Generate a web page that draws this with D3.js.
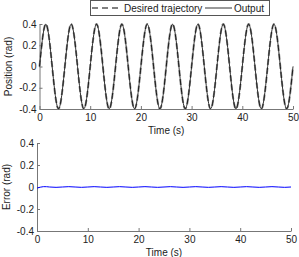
<!DOCTYPE html>
<html>
<head>
<meta charset="utf-8">
<script src="https://cdn.jsdelivr.net/npm/d3@7"></script>
<style>
  body { margin: 0; background: #fff; }
  svg { display: block; font-family: "Liberation Sans", Arial, sans-serif; }
  .tick text { font-size: 10px; fill: #222; }
  .axis path, .axis line { stroke: #777; }
</style>
</head>
<body>
<div class="svg-chart"></div>
<script>
// sampled every quarter period (1.25 s)
const time = [0, 1.25, 2.5, 3.75, 5, 6.25, 7.5, 8.75, 10, 11.25, 12.5, 13.75, 15, 16.25,
  17.5, 18.75, 20, 21.25, 22.5, 23.75, 25, 26.25, 27.5, 28.75, 30, 31.25, 32.5, 33.75,
  35, 36.25, 37.5, 38.75, 40, 41.25, 42.5, 43.75, 45, 46.25, 47.5, 48.75, 50];
const desired = [0, 0.4, 0, -0.4, 0, 0.4, 0, -0.4, 0, 0.4, 0, -0.4, 0, 0.4, 0, -0.4,
  0, 0.4, 0, -0.4, 0, 0.4, 0, -0.4, 0, 0.4, 0, -0.4, 0, 0.4, 0, -0.4, 0, 0.4, 0, -0.4,
  0, 0.4, 0, -0.4, 0];
const output = [0, 0.398, 0, -0.398, 0, 0.398, 0, -0.398, 0, 0.398, 0, -0.398, 0, 0.398,
  0, -0.398, 0, 0.398, 0, -0.398, 0, 0.398, 0, -0.398, 0, 0.398, 0, -0.398, 0, 0.398,
  0, -0.398, 0, 0.398, 0, -0.398, 0, 0.398, 0, -0.398, 0];
const error = [-0.01, 0.003, 0, -0.003, 0, 0.003, 0, -0.003, 0, 0.003, 0, -0.003, 0,
  0.003, 0, -0.003, 0, 0.003, 0, -0.003, 0, 0.003, 0, -0.003, 0, 0.003, 0, -0.003, 0,
  0.003, 0, -0.003, 0, 0.003, 0, -0.003, 0, 0.003, 0, -0.003, 0];
const xTicks = [0, 10, 20, 30, 40, 50];
const yTicks = [-0.4, -0.2, 0, 0.2, 0.4];
const legendLabels = ["Desired trajectory", "Output"];

const width = 299, height = 257;
const svg = d3.select(".svg-chart").append("svg")
  .attr("width", width).attr("height", height);

function panel(box, yLabel) {
  const x = d3.scaleLinear().domain([0, 50]).range([box.left, box.right]);
  const y = d3.scaleLinear().domain([-0.4, 0.4]).range([box.bottom, box.top]);

  svg.append("g").attr("class", "axis")
    .attr("transform", `translate(0,${box.bottom})`)
    .call(d3.axisBottom(x).tickValues(xTicks).tickSizeInner(-3).tickSizeOuter(0)
      .tickPadding(5).tickFormat(d3.format("d")));
  svg.append("g").attr("class", "axis")
    .attr("transform", `translate(${box.left},0)`)
    .call(d3.axisLeft(y).tickValues(yTicks).tickSizeInner(-3).tickSizeOuter(0)
      .tickPadding(3).tickFormat(d => d === 0 ? "0" : d3.format(".1f")(d).replace("−", "-")));

  svg.append("text")
    .attr("transform", `translate(${box.left - 31},${(box.top + box.bottom) / 2}) rotate(-90)`)
    .attr("text-anchor", "middle").attr("dy", "0.35em")
    .style("font-size", "10px").attr("fill", "#222").text(yLabel);
  svg.append("text")
    .attr("x", (box.left + box.right) / 2).attr("y", box.bottom + 21)
    .attr("text-anchor", "middle").attr("dy", "0.35em")
    .style("font-size", "10px").attr("fill", "#222").text("Time (s)");

  return { x, y };
}

// top panel
const pos = panel({ left: 39.5, right: 293, top: 24, bottom: 109 }, "Position (rad)");
const linePos = d3.line().x((d, i) => pos.x(time[i])).y(d => pos.y(d)).curve(d3.curveNatural);

svg.append("path").datum(desired)
  .attr("d", linePos).attr("fill", "none")
  .attr("stroke", "#808080").attr("stroke-width", 2).attr("stroke-dasharray", "6,3");
svg.append("path").datum(output)
  .attr("d", linePos).attr("fill", "none")
  .attr("stroke", "#000").attr("stroke-width", 0.8);

// legend
const lg = svg.append("g");
lg.append("rect").attr("x", 90.5).attr("y", 0.5).attr("width", 179).attr("height", 15)
  .attr("fill", "#fff").attr("stroke", "#555").attr("stroke-width", 1);
lg.append("line").attr("x1", 92).attr("x2", 122).attr("y1", 8).attr("y2", 8)
  .attr("stroke", "#808080").attr("stroke-width", 2).attr("stroke-dasharray", "6,4");
lg.append("text").attr("x", 124).attr("y", 8).attr("dy", "0.35em")
  .style("font-size", "10px").attr("fill", "#222").text(legendLabels[0]);
lg.append("line").attr("x1", 205).attr("x2", 232).attr("y1", 8).attr("y2", 8)
  .attr("stroke", "#000").attr("stroke-width", 0.8);
lg.append("text").attr("x", 234).attr("y", 8).attr("dy", "0.35em")
  .style("font-size", "10px").attr("fill", "#222").text(legendLabels[1]);

// bottom panel
const err = panel({ left: 37, right: 291, top: 143, bottom: 231 }, "Error (rad)");
const lineErr = d3.line().x((d, i) => err.x(time[i])).y(d => err.y(d)).curve(d3.curveNatural);
svg.append("path").datum(error)
  .attr("d", lineErr).attr("fill", "none")
  .attr("stroke", "#0000ff").attr("stroke-width", 1);
</script>
</body>
</html>
